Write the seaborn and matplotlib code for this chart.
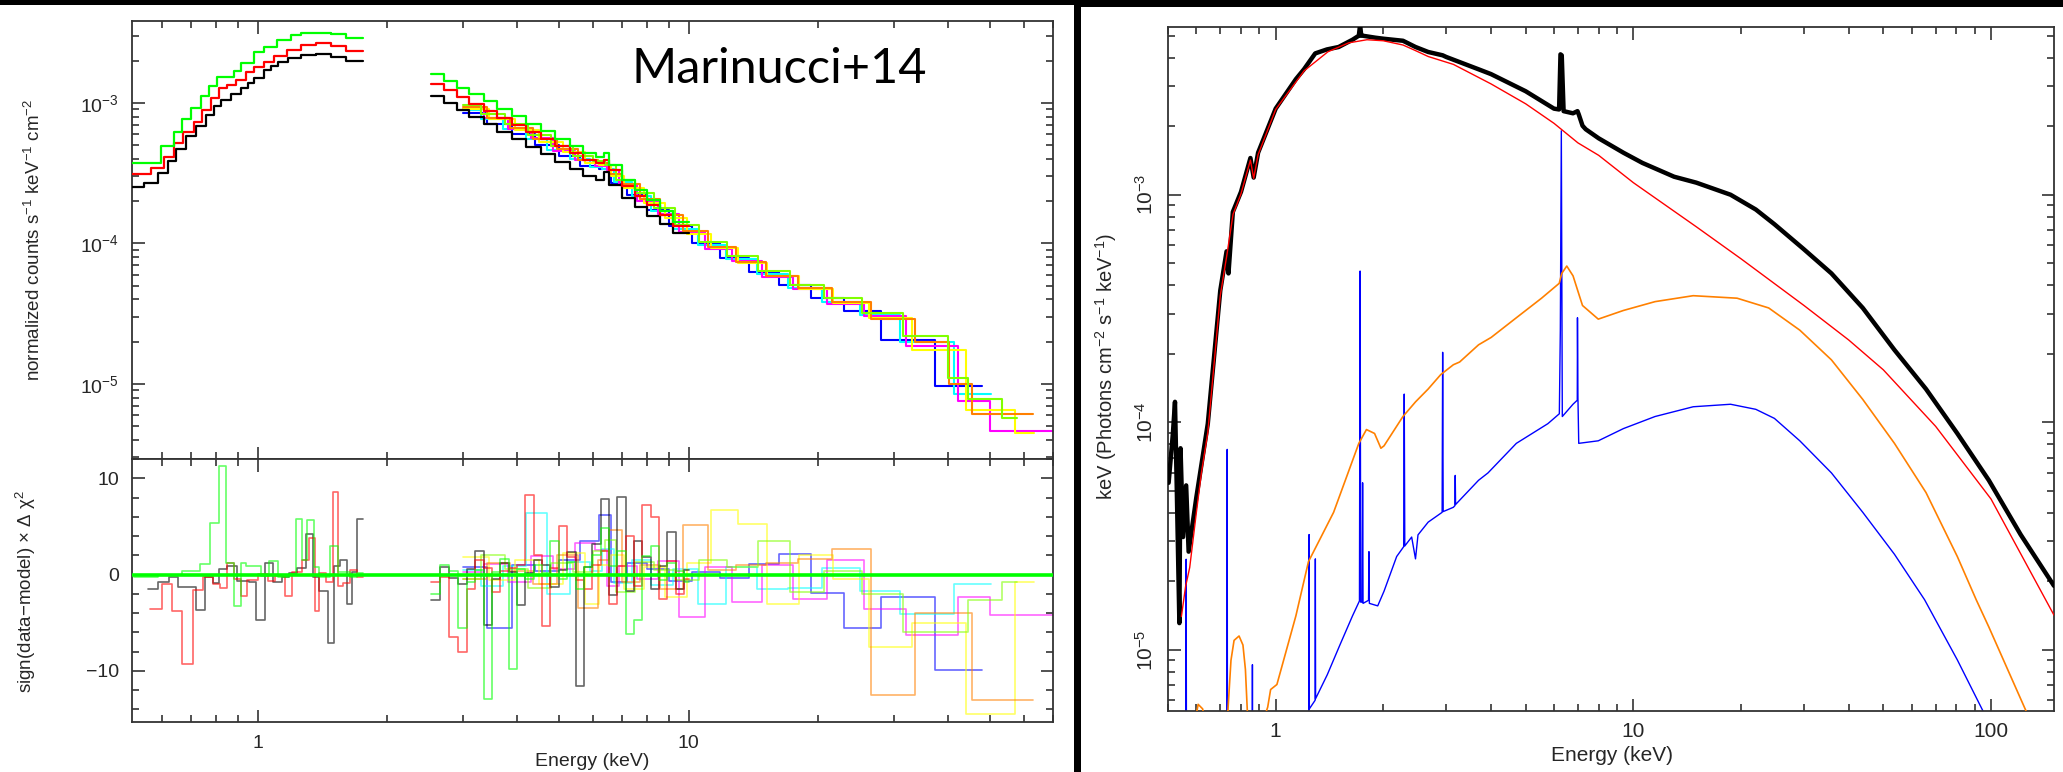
import numpy as np
import pandas as pd
import matplotlib
matplotlib.use("Agg")
import matplotlib.pyplot as plt
import seaborn as sns
from matplotlib.patches import Rectangle
from matplotlib.ticker import FixedLocator, FixedFormatter, LogLocator, NullFormatter, MultipleLocator

# ======================= DATA =======================
# ---- left top: XMM low-energy unfolded counts (bin edges in keV, values) ----
xmm_black_lo_E = [0.512,0.544,0.586,0.618,0.645,0.681,0.718,0.757,0.790,0.821,0.866,0.913,0.948,0.979,1.033,1.072,1.113,1.174,1.258,1.363,1.477,1.600,1.752]
xmm_black_lo_F = [2.51e-4,2.71e-4,3.16e-4,3.88e-4,4.71e-4,5.82e-4,6.86e-4,8.22e-4,9.52e-4,1.06e-3,1.16e-3,1.27e-3,1.39e-3,1.52e-3,1.72e-3,1.83e-3,1.97e-3,2.10e-3,2.20e-3,2.22e-3,2.12e-3,2.00e-3]
xmm_red_lo_E = [0.512,0.565,0.606,0.640,0.672,0.712,0.744,0.778,0.813,0.850,0.889,0.938,0.980,1.034,1.091,1.172,1.258,1.363,1.477,1.600,1.752]
xmm_red_lo_F = [3.13e-4,3.43e-4,4.15e-4,5.16e-4,6.25e-4,7.36e-4,8.92e-4,1.08e-3,1.27e-3,1.34e-3,1.46e-3,1.67e-3,1.81e-3,1.97e-3,2.16e-3,2.38e-3,2.58e-3,2.66e-3,2.56e-3,2.36e-3]
xmm_green_lo_E = [0.512,0.596,0.640,0.669,0.702,0.738,0.771,0.806,0.881,0.913,0.980,1.034,1.111,1.193,1.258,1.363,1.477,1.600,1.752]
xmm_green_lo_F = [3.74e-4,4.97e-4,6.18e-4,7.69e-4,9.17e-4,1.12e-3,1.32e-3,1.54e-3,1.70e-3,1.92e-3,2.32e-3,2.52e-3,2.81e-3,3.05e-3,3.15e-3,3.18e-3,3.08e-3,2.90e-3]

# ---- left top: XMM 2.5-10 keV ----
xmm_hi_E = [2.53,2.7,2.9,3.1,3.35,3.6,3.9,4.2,4.55,4.9,5.3,5.7,6.1,6.35,6.55,7.0,7.5,8.0,8.6,9.2,10.0]
xmm_black_hi_F = [1.12e-3,1.00e-3,8.96e-4,8.01e-4,7.11e-4,6.27e-4,5.54e-4,4.90e-4,4.32e-4,3.82e-4,3.38e-4,3.01e-4,2.83e-4,3.25e-4,2.61e-4,2.10e-4,1.81e-4,1.58e-4,1.38e-4,1.19e-4]
xmm_red_hi_F = [1.36e-3,1.23e-3,1.10e-3,9.91e-4,8.85e-4,7.86e-4,7.02e-4,6.24e-4,5.54e-4,4.94e-4,4.40e-4,3.95e-4,3.75e-4,3.95e-4,3.35e-4,2.57e-4,2.19e-4,1.87e-4,1.59e-4,1.33e-4]
xmm_green_hi_F = [1.61e-3,1.44e-3,1.29e-3,1.16e-3,1.03e-3,9.07e-4,8.04e-4,7.11e-4,6.29e-4,5.57e-4,4.94e-4,4.41e-4,4.15e-4,4.40e-4,3.60e-4,2.83e-4,2.39e-4,2.03e-4,1.70e-4,1.42e-4]

# ---- left top: NuSTAR spectra ----
nu_blue_E = [3.0,3.4,3.9,4.4,5.0,5.6,6.2,6.6,7.2,8.0,9.0,10.2,11.8,13.8,16.2,19.2,23.0,28.0,37.4,47.9]
nu_blue_F = [8.45e-4,7.1e-4,6.0e-4,5.0e-4,4.2e-4,3.55e-4,3.4e-4,2.7e-4,2.22e-4,1.72e-4,1.33e-4,1.0e-4,7.9e-5,6.3e-5,5.1e-5,4.1e-5,3.3e-5,2.05e-5,9.73e-6]
nu_cyan_E = [3.0,3.3,3.7,4.2,4.7,5.3,5.9,6.3,6.7,7.4,8.2,9.2,10.5,12.2,14.4,17.0,20.4,25.0,31.0,41.2,50.3]
nu_cyan_F = [8.9e-4,7.7e-4,6.55e-4,5.55e-4,4.65e-4,3.98e-4,3.5e-4,3.4e-4,2.72e-4,2.18e-4,1.70e-4,1.27e-4,9.7e-5,7.7e-5,6.1e-5,4.85e-5,3.85e-5,3.1e-5,2.0e-5,8.45e-6]
nu_magenta_E = [3.0,3.35,3.8,4.3,4.85,5.45,6.05,6.45,6.9,7.6,8.5,9.5,10.9,12.6,14.8,17.5,21.0,25.5,32.0,42.3,50.0,70.0]
nu_magenta_F = [9.0e-4,7.8e-4,6.5e-4,5.6e-4,4.55e-4,3.95e-4,3.55e-4,3.35e-4,2.6e-4,2.02e-4,1.62e-4,1.2e-4,9.2e-5,7.5e-5,5.8e-5,4.75e-5,3.7e-5,3.05e-5,1.85e-5,7.57e-6,4.62e-6]
nu_yellow_E = [3.0,3.45,3.95,4.5,5.1,5.75,6.2,6.6,7.1,7.9,8.8,9.9,11.3,13.0,15.2,18.0,21.6,26.2,33.0,44.0,57.2,63.2]
nu_yellow_F = [9.1e-4,7.7e-4,6.4e-4,5.3e-4,4.45e-4,3.75e-4,3.65e-4,3.0e-4,2.48e-4,1.95e-4,1.52e-4,1.17e-4,9.3e-5,7.3e-5,5.9e-5,4.75e-5,3.8e-5,2.95e-5,1.75e-5,6.5e-6,4.5e-6]
nu_orange_E = [3.0,3.4,3.85,4.35,4.95,5.55,6.15,6.55,7.0,7.7,8.6,9.7,11.1,12.9,15.1,17.9,21.5,26.5,33.5,40.3,45.5,62.9]
nu_orange_F = [9.3e-4,7.85e-4,6.65e-4,5.55e-4,4.7e-4,3.95e-4,3.75e-4,3.1e-4,2.65e-4,2.08e-4,1.6e-4,1.22e-4,9.4e-5,7.4e-5,5.9e-5,4.8e-5,3.85e-5,2.9e-5,2.0e-5,9.95e-6,6.11e-6]
nu_lime_E = [3.0,3.3,3.75,4.25,4.8,5.4,6.0,6.4,6.8,7.5,8.3,9.3,10.6,12.3,14.5,17.2,20.6,25.2,31.5,40.0,44.4,53.3,57.8]
nu_lime_F = [9.75e-4,8.4e-4,7.05e-4,5.9e-4,4.95e-4,4.2e-4,3.85e-4,3.65e-4,2.85e-4,2.28e-4,1.78e-4,1.35e-4,1.03e-4,8.1e-5,6.4e-5,5.1e-5,4.1e-5,3.2e-5,2.2e-5,1.1e-5,7.78e-6,5.75e-6]

# ---- left bottom: residuals sign(data-model) x delta chi^2 ----
res_black_lo_E = [0.5567,0.5882,0.6215,0.6518,0.6809,0.7194,0.7546,0.7884,0.8120,0.8484,0.8962,0.9539,0.9895,1.038,1.088,1.137,1.180,1.233,1.292,1.341,1.391,1.459,1.502,1.552,1.610,1.652,1.701,1.752]
res_black_lo_V = [-1.5,-0.8,-0.3,-1.3,-1.3,-3.7,-0.3,-0.9,0.6,0.9,-0.7,-0.8,-4.7,1.2,-0.8,-0.2,0.2,0.7,4.2,-0.2,-1.7,-7.1,0.9,1.5,-3.0,0.3,5.8]
res_red_lo_E = [0.5628,0.599,0.6329,0.6686,0.7065,0.7463,0.7884,0.8180,0.8484,0.8800,0.9128,0.9469,1.0,1.057,1.096,1.158,1.201,1.269,1.316,1.356,1.391,1.443,1.497,1.535,1.581,1.640,1.701,1.752]
res_red_lo_V = [-3.6,-1.0,-3.8,-9.3,-1.6,-0.3,-1.0,-1.4,1.2,-0.5,-2.2,-0.6,0.1,-0.7,-0.1,-2.2,0.3,1.5,3.8,-3.8,0.2,-0.8,8.6,-1.2,-0.9,0.5,-0.3]
res_green_lo_E = [0.5173,0.5882,0.6686,0.7328,0.7740,0.8120,0.8422,0.8800,0.9128,0.9399,1.019,1.065,1.117,1.180,1.224,1.269,1.302,1.351,1.391,1.470,1.535,1.581,1.640,1.701,1.752]
res_green_lo_V = [-0.3,0.0,0.4,1.1,5.4,11.3,1.2,-3.3,1.2,0.9,-0.1,1.4,-0.2,0.1,5.8,1.5,5.7,0.8,-0.3,3.0,0.3,0.3,-0.2,0.2]
res_xmm_hi_E = [2.53,2.65,2.78,2.92,3.06,3.2,3.35,3.5,3.66,3.83,4.0,4.18,4.37,4.57,4.78,5.0,5.23,5.47,5.72,5.98,6.25,6.53,6.83,7.14,7.47,7.81,8.17,8.54,8.93,9.34,9.77,10.0]
res_black_hi_V = [-2.6,0.8,-0.4,-1.0,0.6,2.4,-5.2,-0.5,1.2,0.3,-3.2,0.2,1.5,1.0,-1.3,0.5,2.3,-11.6,0.8,3.2,7.8,-2.1,8.1,-1.7,3.5,1.8,-1.5,0.9,4.4,-1.5,0.5]
res_red_hi_V = [-0.8,-0.3,-6.5,-8.0,-1.5,1.5,0.7,-1.8,0.4,0.7,1.0,8.3,2.0,-5.3,0.7,5.0,1.8,-0.6,-1.5,1.0,2.5,-3.0,0.9,4.0,-1.2,7.2,6.0,-2.5,1.4,-2.0,-0.5]
res_green_hi_V = [-2.0,1.0,0.4,-5.5,-0.8,0.5,-12.9,0.3,1.6,-9.8,0.6,-0.5,1.0,0.2,3.5,-0.5,1.3,-1.5,0.8,2.0,4.8,0.9,2.5,-6.2,-4.7,1.9,3.0,-0.6,1.2,0.4,-0.8]
res_blue_V = [0.8,-5.5,1.0,0.4,1.5,3.5,6.2,-0.8,1.2,0.6,-0.7,0.3,-0.4,1.1,2.1,-1.9,-5.5,-2.3,-9.9]
res_cyan_V = [0.5,-1.2,0.9,6.4,-2.0,1.3,0.4,2.7,-0.9,1.5,-1.1,0.6,-3.1,0.8,-1.5,-1.4,0.7,-1.7,-4.1,-1.0]
res_magenta_V = [0.3,1.1,-0.8,1.9,0.6,3.3,2.6,-1.2,0.9,-0.5,1.4,-4.4,0.8,-2.8,1.0,-2.5,1.5,-3.6,-6.3,-2.3,-4.2]
res_yellow_V = [1.8,-0.6,1.5,-1.0,2.2,-3.0,1.0,2.0,-1.5,0.8,-2.3,1.2,6.7,5.3,-3.0,2.0,-0.5,-7.5,-5.0,-14.5,-0.8]
res_orange_V = [-0.5,1.2,0.4,-1.0,2.0,-3.5,1.5,4.6,-0.8,1.0,-1.5,5.2,0.5,1.0,1.2,1.6,2.7,-12.5,-4.0,-4.0,-13.0]
res_lime_V = [-0.5,2.0,0.6,-1.4,1.2,0.3,2.5,3.6,-1.8,1.3,0.5,-0.6,1.5,0.8,3.5,-1.8,0.4,-2.0,-6.0,-6.0,-2.6,-0.8]

# ---- right panel: model components, E * F(E) ----
tot_E = [0.502,0.516,0.523,0.529,0.538,0.542,0.551,0.562,0.571,0.600,0.646,0.700,0.729,0.738,0.759,0.800,0.850,0.868,0.893,1.0,1.139,1.2,1.29,1.39,1.5,1.64,1.708,1.722,1.735,1.75,1.9,2.0,2.27,2.46,2.67,2.93,3.0,3.69,4.0,5.0,6.0,6.2,6.256,6.307,6.383,6.78,6.98,7.04,7.21,7.36,8.0,9.38,10.6,13.0,15.0,18.7,22.0,24.8,29.9,35.8,43.8,53.7,65.8,80.5,98.6,121,150]
tot_F = [5.42e-5,8.93e-5,1.23e-4,5.16e-5,1.31e-5,7.69e-5,3.13e-5,5.28e-5,2.70e-5,4.67e-5,9.86e-5,3.79e-4,5.64e-4,4.51e-4,8.40e-4,1.03e-3,1.45e-3,1.19e-3,1.53e-3,2.39e-3,3.22e-3,3.56e-3,4.18e-3,4.35e-3,4.46e-3,4.80e-3,5.00e-3,5.58e-3,5.0e-3,5.0e-3,4.90e-3,4.85e-3,4.75e-3,4.46e-3,4.24e-3,4.10e-3,4.03e-3,3.56e-3,3.39e-3,2.85e-3,2.39e-3,2.37e-3,4.14e-3,4.10e-3,2.33e-3,2.28e-3,2.33e-3,2.25e-3,2.01e-3,1.94e-3,1.77e-3,1.53e-3,1.38e-3,1.20e-3,1.13e-3,1.00e-3,8.61e-4,7.42e-4,5.78e-4,4.51e-4,3.18e-4,2.08e-4,1.40e-4,8.93e-5,5.56e-5,3.21e-5,1.91e-5]
pl_E = [0.545,0.56,0.575,0.60,0.62,0.646,0.66,0.70,0.73,0.76,0.80,0.85,0.868,0.893,1.0,1.2,1.4,1.6,1.8,2.0,2.27,2.46,2.67,3.14,4.0,5.0,6.0,7.0,8.0,10.0,15.0,20.0,30.0,40.0,50.0,70.0,100.0,150.0]
pl_F = [1.4e-5,1.9e-5,2.3e-5,4.0e-5,6.0e-5,9.0e-5,1.3e-4,3.6e-4,5.4e-4,8.2e-4,1.01e-3,1.42e-3,1.18e-3,1.50e-3,2.37e-3,3.50e-3,4.25e-3,4.65e-3,4.80e-3,4.75e-3,4.55e-3,4.30e-3,4.05e-3,3.74e-3,3.07e-3,2.51e-3,2.06e-3,1.69e-3,1.49e-3,1.13e-3,7.23e-4,5.23e-4,3.26e-4,2.30e-4,1.70e-4,9.6e-5,4.6e-5,1.42e-5]
refl_E = [0.59,0.607,0.625,0.64,0.732,0.75,0.765,0.79,0.81,0.823,0.836,0.92,0.95,0.968,1.008,1.139,1.235,1.339,1.452,1.575,1.708,1.794,1.89,1.969,2.009,2.269,2.461,2.669,2.894,3.139,3.268,3.692,4.004,4.709,5.538,6.205,6.307,6.514,6.783,7.064,7.209,7.979,9.38,11.5,14.7,19.5,23.9,29.2,35.8,43.8,53.7,65.8,80.5,90.9,98.6,125,135]
refl_F = [4.5e-6,5.76e-6,5.5e-6,4.5e-6,4.8e-6,9.0e-6,1.1e-5,1.15e-5,1.05e-5,8.2e-6,4.8e-6,4.8e-6,5.6e-6,6.69e-6,7.04e-6,1.41e-5,2.44e-5,3.13e-5,4.02e-5,5.70e-5,8.08e-5,9.29e-5,8.93e-5,7.69e-5,7.88e-5,1.06e-4,1.23e-4,1.40e-4,1.62e-4,1.79e-4,1.84e-4,2.19e-4,2.36e-4,2.88e-4,3.51e-4,4.08e-4,4.51e-4,4.86e-4,4.40e-4,3.60e-4,3.26e-4,2.84e-4,3.10e-4,3.39e-4,3.60e-4,3.51e-4,3.18e-4,2.54e-4,1.88e-4,1.26e-4,8.08e-5,4.91e-5,2.57e-5,1.66e-5,1.26e-5,5.43e-6,4.0e-6]
lines_E = [0.555,0.561,0.562,0.563,0.731,0.732,0.733,0.860,0.861,0.862,1.22,1.238,1.240,1.242,1.289,1.291,1.293,1.394,1.512,1.640,1.715,1.722,1.729,1.745,1.750,1.755,1.818,1.823,1.828,1.929,2.009,2.179,2.280,2.288,2.296,2.40,2.46,2.50,2.669,2.920,2.930,2.940,3.139,3.170,3.177,3.184,3.692,3.923,4.709,5.768,6.21,6.25,6.29,6.33,6.78,6.97,6.979,7.00,7.036,7.979,9.38,11.5,14.7,18.7,22.0,24.8,29.2,35.8,43.8,53.7,65.2,80.5,94.7,100]
lines_F = [4.0e-6,4.0e-6,2.5e-5,4.0e-6,4.0e-6,7.6e-5,4.0e-6,4.0e-6,8.6e-6,4.0e-6,4.0e-6,5.3e-6,3.21e-5,5.5e-6,6.0e-6,2.51e-5,6.1e-6,7.77e-6,1.05e-5,1.41e-5,1.64e-5,4.62e-4,1.62e-5,1.62e-5,5.42e-5,1.6e-5,1.65e-5,2.70e-5,1.6e-5,1.56e-5,1.81e-5,2.57e-5,2.84e-5,1.33e-4,2.86e-5,3.13e-5,2.51e-5,3.2e-5,3.64e-5,4.02e-5,2.03e-4,4.05e-5,4.23e-5,4.3e-5,5.84e-5,4.35e-5,5.56e-5,5.99e-5,8.08e-5,9.86e-5,1.09e-4,2.54e-4,1.91e-3,1.06e-4,1.20e-4,1.25e-4,2.88e-4,1.28e-4,8.08e-5,8.29e-5,9.38e-5,1.06e-4,1.17e-4,1.20e-4,1.14e-4,1.04e-4,8.29e-5,5.99e-5,4.02e-5,2.63e-5,1.66e-5,9.03e-6,5.43e-6,4.5e-6]

COL = dict(black="#000000", red="#ff0000", green="#00ff00", blue="#0000ff", cyan="#00ffff",
           magenta="#ff00ff", yellow="#ffff00", orange="#ff8000", lime="#80ff00")

# ======================= FIGURE =======================
sns.set_theme(style="ticks")
plt.rcParams["font.family"] = ["Liberation Sans", "DejaVu Sans"]
plt.rcParams["mathtext.fontset"] = "custom"
plt.rcParams["mathtext.rm"] = "Liberation Sans"
plt.rcParams["mathtext.it"] = "Liberation Sans:italic"
plt.rcParams["mathtext.bf"] = "Liberation Sans:bold"

W, H = 2063, 772
fig = plt.figure(figsize=(W / 100, H / 100), dpi=100, facecolor="black")
fig.patches.append(Rectangle((0, 0), 1074 / W, 1 - 5 / H, transform=fig.transFigure,
                             facecolor="white", edgecolor="none", zorder=-5))
fig.patches.append(Rectangle((1081 / W, 0), (W - 1081) / W, 1 - 7 / H, transform=fig.transFigure,
                             facecolor="white", edgecolor="none", zorder=-5))

def box(x0, y0, x1, y1):
    return [x0 / W, 1 - y1 / H, (x1 - x0) / W, (y1 - y0) / H]

ax1 = fig.add_axes(box(131.7, 21, 1052.7, 459))
ax2 = fig.add_axes(box(131.7, 459, 1052.7, 722))
ax3 = fig.add_axes(box(1168, 27, 2054, 710.7))
for ax in (ax1, ax2, ax3):
    ax.set_facecolor("white")
    ax.set_xscale("log")
ax1.set_yscale("log")
ax3.set_yscale("log")

def steps(ax, edges, vals, color, lw=1.5, alpha=1.0, z=2):
    df = pd.DataFrame({"E": list(edges), "F": list(vals) + [vals[-1]]})
    sns.lineplot(data=df, x="E", y="F", ax=ax, color=color, linewidth=lw, alpha=alpha,
                 drawstyle="steps-post", estimator=None, sort=False, legend=False, zorder=z)

def curve(ax, xs, ys, color, lw, z=2, alpha=1.0):
    df = pd.DataFrame({"E": xs, "F": ys})
    sns.lineplot(data=df, x="E", y="F", ax=ax, color=color, linewidth=lw, alpha=alpha,
                 estimator=None, sort=False, legend=False, zorder=z)

# ---- top-left spectra ----
nus = [("blue", nu_blue_E, nu_blue_F, res_blue_V), ("cyan", nu_cyan_E, nu_cyan_F, res_cyan_V),
       ("magenta", nu_magenta_E, nu_magenta_F, res_magenta_V), ("yellow", nu_yellow_E, nu_yellow_F, res_yellow_V),
       ("orange", nu_orange_E, nu_orange_F, res_orange_V), ("lime", nu_lime_E, nu_lime_F, res_lime_V)]
for name, e, f, _ in nus:
    steps(ax1, e, f, COL[name], lw=1.5, z=2)
steps(ax1, xmm_black_lo_E, xmm_black_lo_F, COL["black"], lw=1.6, z=3)
steps(ax1, xmm_hi_E, xmm_black_hi_F, COL["black"], lw=1.6, z=3)
steps(ax1, xmm_red_lo_E, xmm_red_lo_F, COL["red"], lw=1.6, z=4)
steps(ax1, xmm_hi_E, xmm_red_hi_F, COL["red"], lw=1.6, z=4)
steps(ax1, xmm_green_lo_E, xmm_green_lo_F, COL["green"], lw=1.6, z=5)
steps(ax1, xmm_hi_E, xmm_green_hi_F, COL["green"], lw=1.6, z=5)

# ---- residuals ----
ra = 0.6
for name, e, _, v in nus:
    steps(ax2, e, v, COL[name], lw=1.2, alpha=ra, z=2)
steps(ax2, res_black_lo_E, res_black_lo_V, COL["black"], lw=1.2, alpha=ra, z=3)
steps(ax2, res_xmm_hi_E, res_black_hi_V, COL["black"], lw=1.2, alpha=ra, z=3)
steps(ax2, res_red_lo_E, res_red_lo_V, COL["red"], lw=1.2, alpha=ra, z=3)
steps(ax2, res_xmm_hi_E, res_red_hi_V, COL["red"], lw=1.2, alpha=ra, z=3)
steps(ax2, res_green_lo_E, res_green_lo_V, COL["green"], lw=1.2, alpha=ra, z=3)
steps(ax2, res_xmm_hi_E, res_green_hi_V, COL["green"], lw=1.2, alpha=ra, z=3)
ax2.axhline(0, color="#00ff00", lw=2.6, zorder=6)

# ---- right panel ----
curve(ax3, lines_E, lines_F, "#0000ff", 1.0, z=2)
curve(ax3, refl_E, refl_F, "#ff8000", 1.2, z=3)
curve(ax3, tot_E, tot_F, "#000000", 3.2, z=4)
curve(ax3, pl_E, pl_F, "#ff0000", 1.0, z=5)

# ======================= AXES STYLE =======================
ax1.set_xlim(0.51, 70); ax2.set_xlim(0.51, 70)
ax1.set_ylim(2.92e-6, 3.84e-3)
ax2.set_ylim(-15.3, 12)
ax3.set_xlim(0.5, 150); ax3.set_ylim(5.4e-6, 5.46e-3)

for ax in (ax1, ax2, ax3):
    for s in ax.spines.values():
        s.set_color("#333333"); s.set_linewidth(1.3)
    ax.tick_params(which="both", direction="in", top=True, right=True, color="#333333", width=1.2)
    ax.tick_params(which="major", length=9)
    ax.tick_params(which="minor", length=5)
    ax.xaxis.set_minor_locator(LogLocator(base=10, subs=np.arange(2, 10), numticks=30))
    ax.xaxis.set_minor_formatter(NullFormatter())
    ax.set_xlabel(""); ax.set_ylabel("")

for ax in (ax1, ax2):
    ax.xaxis.set_major_locator(FixedLocator([1, 10]))
    ax.xaxis.set_major_formatter(FixedFormatter(["1", "10"]))
ax1.tick_params(labelbottom=False)
ax1.yaxis.set_major_locator(FixedLocator([1e-5, 1e-4, 1e-3]))
ax1.yaxis.set_major_formatter(FixedFormatter([r"$10^{-5}$", r"$10^{-4}$", r"$10^{-3}$"]))
ax1.yaxis.set_minor_locator(LogLocator(base=10, subs=np.arange(2, 10), numticks=30))
ax1.yaxis.set_minor_formatter(NullFormatter())
ax2.yaxis.set_major_locator(FixedLocator([-10, 0, 10]))
ax2.yaxis.set_major_formatter(FixedFormatter(["\u221210", "0", "10"]))
ax2.yaxis.set_minor_locator(MultipleLocator(2))
for ax in (ax1, ax2):
    ax.tick_params(axis="both", which="major", labelsize=14, pad=9)

ax3.xaxis.set_major_locator(FixedLocator([1, 10, 100]))
ax3.xaxis.set_major_formatter(FixedFormatter(["1", "10", "100"]))
ax3.yaxis.set_major_locator(FixedLocator([1e-5, 1e-4, 1e-3]))
ax3.yaxis.set_major_formatter(FixedFormatter([r"$10^{-5}$", r"$10^{-4}$", r"$10^{-3}$"]))
ax3.yaxis.set_minor_locator(LogLocator(base=10, subs=np.arange(2, 10), numticks=30))
ax3.yaxis.set_minor_formatter(NullFormatter())
ax3.tick_params(axis="both", which="major", labelsize=15, pad=8)
ax3.tick_params(axis="y", which="major", labelrotation=90)
for lab in ax3.get_yticklabels():
    lab.set_va("center")

# labels
ax1.set_ylabel(r"normalized counts s$^{-1}$ keV$^{-1}$ cm$^{-2}$", fontsize=13.5)
ax1.yaxis.set_label_coords(-0.0947, 0.5)
ax2.set_ylabel("sign(data\u2212model) \u00d7 \u0394 \u03c7$^{2}$", fontsize=13.5)
ax2.yaxis.set_label_coords(-0.1017, 0.495)
ax2.set_xlabel("Energy (keV)", fontsize=14)
ax2.xaxis.set_label_coords(0.5, -0.118)
ax3.set_ylabel(r"keV (Photons cm$^{-2}$ s$^{-1}$ keV$^{-1}$)", fontsize=14.5)
ax3.yaxis.set_label_coords(-0.0553, 0.5027)
ax3.set_xlabel("Energy (keV)", fontsize=15)
ax3.xaxis.set_label_coords(0.501, -0.0516)

fig.text(632 / W, 1 - 83 / H, "Marinucci+14", family=["Lato", "DejaVu Sans"], fontsize=35,
         ha="left", va="baseline", color="black")

fig.savefig("out.png", dpi=100, facecolor=fig.get_facecolor())
